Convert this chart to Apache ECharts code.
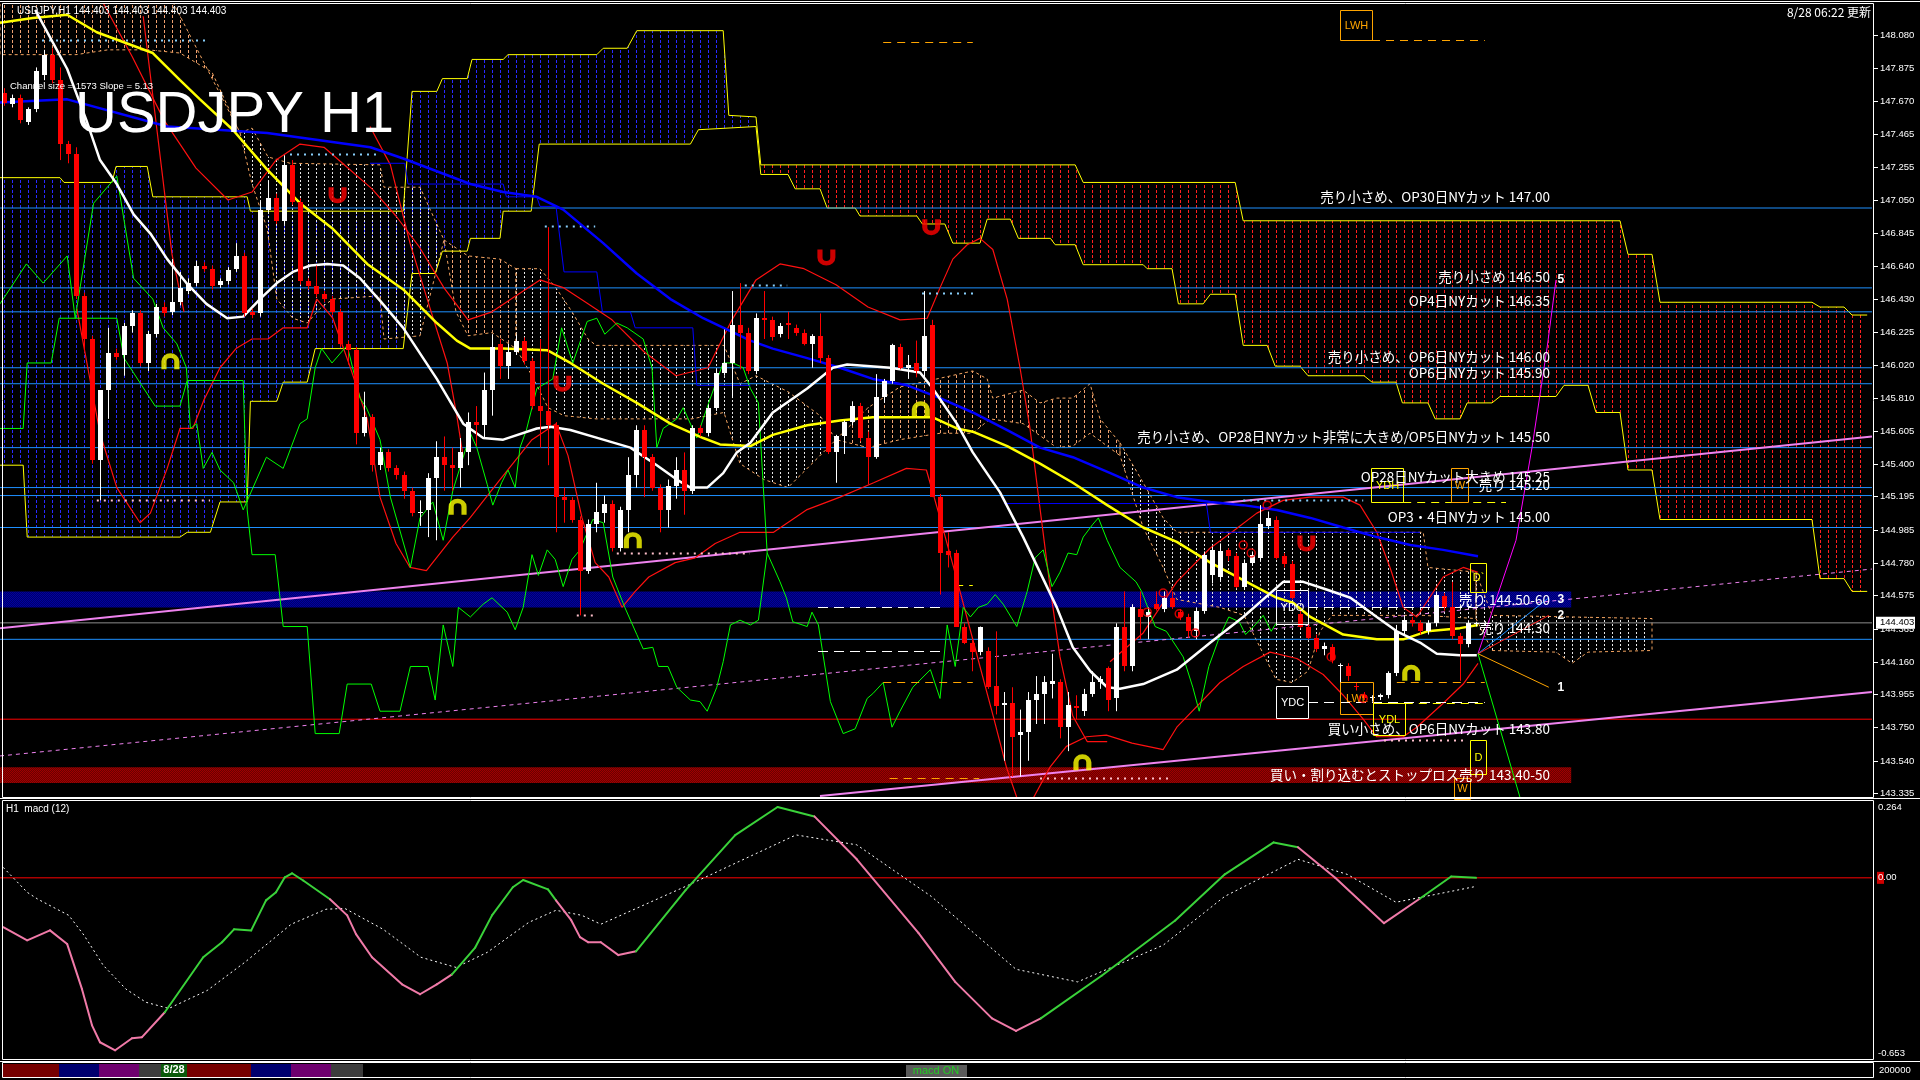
<!DOCTYPE html>
<html><head><meta charset="utf-8">
<script src="https://cdn.jsdelivr.net/npm/echarts/dist/echarts.min.js"></script>
<style>html,body{margin:0;padding:0;background:#000;overflow:hidden}#chart{width:1920px;height:1080px}</style>
</head><body><div id="chart"></div>
<script>
// ---------------- DATA ----------------
const priceTicks = [148.080,147.875,147.670,147.465,147.255,147.050,146.845,146.640,146.430,146.225,146.020,145.810,145.605,145.400,145.195,144.985,144.780,144.575,144.365,144.160,143.955,143.750,143.540,143.335];
const macdTicks = [0.264, 0.0, -0.653];
const lastPrice = 144.403;
// OHLC per hourly bar: [open, high, low, close]
const candles = [
[147.72,147.75,147.64,147.66],[147.65,147.71,147.63,147.69],[147.69,147.71,147.53,147.55],[147.54,147.63,147.52,147.62],
[147.62,147.88,147.60,147.86],[147.83,147.99,147.80,147.96],[147.96,148.00,147.78,147.80],[147.80,147.88,147.30,147.40],
[147.40,147.42,147.28,147.34],[147.34,147.38,146.43,146.45],[146.45,146.47,146.10,146.18],[146.18,146.20,145.40,145.42],
[145.42,145.86,145.17,145.86],[145.86,146.25,145.68,146.09],[146.09,146.12,146.05,146.07],[146.08,146.28,145.95,146.26],
[146.26,146.36,146.22,146.34],[146.34,146.36,146.01,146.03],[146.03,146.23,145.98,146.21],[146.21,146.40,146.19,146.38],
[146.38,146.41,146.32,146.34],[146.35,146.68,146.33,146.41],[146.41,146.60,146.39,146.50],[146.48,146.56,146.46,146.53],
[146.53,146.67,146.51,146.64],[146.64,146.66,146.60,146.62],[146.62,146.64,146.49,146.51],[146.52,146.56,146.50,146.54],
[146.54,146.63,146.52,146.61],[146.62,146.78,146.60,146.70],[146.70,146.72,146.32,146.34],[146.35,146.37,146.31,146.33],
[146.34,147.04,146.32,146.99],[146.99,147.17,146.97,147.06],[147.06,147.09,146.90,146.92],[146.92,147.33,146.90,147.27],
[147.27,147.30,147.02,147.04],[147.04,147.06,146.52,146.54],[146.54,146.56,146.49,146.51],[146.51,146.64,146.44,146.46],
[146.46,146.48,146.41,146.43],[146.43,146.45,146.33,146.35],[146.35,146.37,146.13,146.15],[146.15,146.17,146.02,146.11],
[146.11,146.13,145.52,145.59],[145.59,145.85,145.57,145.69],[145.69,145.71,145.35,145.39],[145.39,145.50,145.36,145.47],
[145.47,145.49,145.35,145.37],[145.37,145.39,145.30,145.33],[145.33,145.35,145.18,145.23],[145.23,145.25,145.07,145.09],
[145.09,145.17,145.01,145.10],[145.11,145.34,144.94,145.31],[145.31,145.54,144.92,145.44],[145.44,145.57,145.23,145.39],
[145.39,145.50,145.23,145.37],[145.37,145.56,145.25,145.47],[145.47,145.72,145.39,145.66],[145.66,145.76,145.51,145.64],
[145.64,145.97,145.56,145.86],[145.86,146.21,145.70,146.13],[146.15,146.18,145.93,146.01],[146.01,146.15,145.93,146.10],
[146.10,146.21,146.08,146.17],[146.17,146.19,146.02,146.04],[146.04,146.06,145.74,145.76],[145.76,146.18,145.50,145.73],
[145.73,146.88,145.39,145.64],[145.64,145.66,144.97,145.19],[145.19,145.25,145.03,145.17],[145.17,145.19,145.03,145.05],
[145.05,145.07,144.45,144.73],[144.73,145.05,144.71,145.02],[145.02,145.28,144.97,145.10],[145.09,145.20,145.03,145.15],
[145.15,145.17,144.85,144.87],[144.87,145.13,144.85,145.11],[145.11,145.44,144.97,145.33],[145.33,145.64,145.25,145.61],
[145.61,145.64,145.19,145.44],[145.44,145.46,145.23,145.25],[145.25,145.27,144.97,145.11],[145.11,145.30,145.00,145.26],
[145.26,145.44,145.18,145.36],[145.36,145.47,145.08,145.23],[145.23,145.64,145.21,145.62],[145.62,145.64,145.57,145.59],
[145.59,145.77,145.57,145.75],[145.75,145.99,145.73,145.97],[145.97,146.24,145.95,146.03],[146.03,146.48,145.81,146.27],
[146.27,146.53,145.99,146.22],[146.22,146.25,145.96,145.98],[145.98,146.34,145.96,146.31],[146.31,146.48,146.18,146.30],
[146.30,146.32,146.17,146.19],[146.21,146.28,146.19,146.26],[146.28,146.35,146.18,146.27],[146.25,146.27,146.20,146.22],
[146.22,146.24,146.14,146.15],[146.15,146.21,146.00,146.20],[146.20,146.34,146.03,146.06],[146.06,146.08,145.46,145.47],
[145.47,145.58,145.28,145.57],[145.57,145.67,145.46,145.66],[145.66,145.79,145.64,145.76],[145.76,145.78,145.54,145.56],
[145.56,145.60,145.27,145.44],[145.44,145.96,145.43,145.82],[145.82,145.93,145.78,145.92],[145.92,146.15,145.90,146.14],
[146.13,146.15,145.99,146.00],[146.00,146.08,145.93,146.02],[146.03,146.17,145.94,145.98],[145.98,146.48,145.94,146.20],
[146.27,146.30,145.19,145.19],[145.19,145.21,144.58,144.84],[144.85,144.97,144.75,144.83],[144.84,144.86,144.38,144.38],
[144.38,144.40,144.27,144.28],[144.28,144.30,144.10,144.22],[144.22,144.38,144.20,144.38],[144.23,144.25,143.99,144.00],
[144.01,144.35,143.83,143.88],[143.89,143.97,143.54,143.90],[143.90,144.00,143.44,143.69],[143.70,143.86,143.44,143.72],
[143.72,143.97,143.54,143.92],[143.92,144.07,143.77,143.96],[143.96,144.07,143.77,144.03],[144.02,144.21,143.93,144.04],
[144.03,144.05,143.68,143.75],[143.75,143.97,143.60,143.89],[143.88,143.95,143.80,143.87],[143.85,143.99,143.82,143.96],
[143.96,144.10,143.94,144.03],[144.03,144.07,143.99,144.05],[144.12,144.13,143.85,143.92],[143.93,144.40,143.85,144.38],
[144.38,144.60,144.10,144.13],[144.13,144.52,144.10,144.50],[144.49,144.60,144.30,144.44],[144.44,144.50,144.30,144.47],
[144.52,144.60,144.48,144.49],[144.49,144.60,144.47,144.56],[144.56,144.60,144.49,144.50],[144.47,144.49,144.42,144.44],
[144.44,144.46,144.31,144.35],[144.35,144.50,144.30,144.48],[144.48,144.85,144.46,144.83],[144.70,144.88,144.65,144.86],
[144.69,144.90,144.66,144.85],[144.86,144.87,144.79,144.82],[144.82,144.84,144.62,144.63],[144.63,144.80,144.61,144.78],
[144.78,144.85,144.76,144.83],[144.81,145.14,144.79,145.02],[145.01,145.10,144.99,145.06],[145.05,145.07,144.80,144.81],
[144.82,144.84,144.75,144.77],[144.77,144.79,144.55,144.56],[144.46,144.48,144.37,144.38],[144.38,144.40,144.30,144.31],
[144.31,144.33,144.22,144.24],[144.24,144.28,144.20,144.26],[144.25,144.27,144.15,144.17],[144.13,144.15,144.00,144.14],
[144.13,144.15,144.04,144.07],[144.01,144.03,143.98,144.00],[143.95,143.97,143.92,143.93],[143.93,143.95,143.91,143.94],
[143.94,143.96,143.92,143.95],[143.95,144.10,143.93,144.09],[144.09,144.39,144.07,144.35],[144.35,144.45,144.33,144.42],
[144.42,144.44,144.38,144.40],[144.40,144.42,144.33,144.35],[144.35,144.42,144.33,144.40],[144.40,144.60,144.38,144.58],
[144.57,144.59,144.48,144.50],[144.50,144.66,144.30,144.32],[144.32,144.34,144.04,144.27],[144.27,144.42,144.25,144.40],
[144.40,144.41,144.38,144.403]
];
// moving averages, read as [bar index, price]
const maWhite = [[3.9,148.24],[7.9,147.87],[10.3,147.55],[12,147.30],[14.1,147.15],[16.2,146.96],[18.3,146.84],[20.4,146.68],[22.8,146.53],[25.3,146.40],[27.9,146.31],[29.9,146.32],[32,146.43],[34.1,146.53],[36.1,146.60],[38.3,146.64],[40.4,146.65],[42.4,146.64],[44.5,146.56],[47,146.42],[49.9,146.25],[54.1,145.93],[57.4,145.65],[59.9,145.56],[62.4,145.55],[66.6,145.62],[68.3,145.63],[70.8,145.61],[74.9,145.55],[78.3,145.50],[81.6,145.39],[84.1,145.30],[85.8,145.25],[87.9,145.25],[89.9,145.34],[91.6,145.47],[93.3,145.53],[96.1,145.72],[100.4,145.87],[103.6,146.00],[105.4,146.02],[110.8,146.00],[114.5,145.97],[116.1,145.87],[119.1,145.65],[121.1,145.47],[124.5,145.22],[127.4,144.94],[131.6,144.50],[133.6,144.25],[135.8,144.10],[137.9,144.00],[139.5,143.99],[142.4,144.02],[146.6,144.11],[150.8,144.28],[154.9,144.44],[157.4,144.55],[159.9,144.66],[162.4,144.66],[165.4,144.61],[168.3,144.56],[171.6,144.44],[174.1,144.35],[177,144.28],[179.1,144.21],[182,144.20],[184.1,144.20]];
const maYellow = [[-0.5,148.16],[3.6,148.19],[7.9,148.21],[11.6,148.10],[18.6,147.97],[22,147.80],[24.5,147.68],[28.6,147.49],[32.9,147.24],[37,147.03],[41.1,146.87],[45.4,146.65],[49.9,146.49],[54.1,146.28],[56.6,146.17],[58.3,146.12],[62.4,146.12],[67.9,146.11],[70.8,146.03],[74.9,145.90],[79.1,145.78],[83.3,145.65],[87.4,145.56],[89.5,145.52],[93.3,145.51],[96.1,145.58],[100.4,145.64],[104.5,145.67],[108.6,145.69],[116.1,145.69],[119.1,145.62],[121.1,145.60],[125.4,145.51],[129.5,145.40],[133.6,145.28],[137.9,145.14],[142.4,145.00],[146.6,144.91],[150.8,144.78],[154.9,144.67],[159.1,144.56],[161.1,144.53],[163.3,144.44],[167.4,144.33],[171.6,144.30],[174.9,144.30],[177.9,144.35],[182,144.37],[184.25,144.39]];
const maBlue = [[-0.5,147.66],[7.9,147.68],[20.4,147.51],[32.9,147.47],[45.8,147.38],[49.9,147.31],[58.3,147.15],[62.4,147.10],[66.6,147.07],[69.9,146.99],[74.9,146.78],[79.1,146.59],[83.3,146.43],[87.4,146.31],[93.3,146.17],[96.1,146.12],[100.4,146.06],[104.5,146.00],[108.6,145.93],[112.9,145.89],[117,145.81],[121.1,145.72],[125.4,145.61],[129.5,145.50],[133.6,145.44],[138.3,145.34],[142.4,145.25],[146.6,145.19],[150.8,145.16],[154.9,145.14],[159.1,145.11],[163.3,145.06],[167.4,145.00],[171.6,144.94],[175.8,144.89],[179.9,144.86],[184.25,144.82]];
// thin blue base line (stepped) [bar index, price]
const baseStep = [[45.75,147.28],[50.1,147.28],[50.5,147.15],[62.4,147.15],[62.8,147.07],[66.6,147.07],[67,147.01],[69,147.01],[70,146.60],[74.1,146.60],[74.8,146.35],[78.3,146.35],[78.9,146.25],[86.1,146.25],[86.6,145.89],[93.3,145.89]];
const baseStep2 = [[125,145.15],[150.3,145.15],[150.8,144.97],[177,144.97]];
// thin red envelope lines [bar index, price]
const redUpper = [[12,148.32],[16,147.95],[20,147.55],[24,147.25],[28,147.05],[31,147.10],[34,147.30],[37,147.40],[40,147.38],[43,147.25],[46,147.12],[49,146.95],[52,146.75],[55,146.50],[58,146.30],[61,146.35],[64,146.45],[67,146.55],[70,146.50],[73,146.40],[76,146.30],[80,146.10],[84,145.95],[88,146.00],[91,146.30],[94,146.55],[97,146.65],[100,146.62],[104,146.52],[108,146.38],[112,146.30],[115.4,146.31],[117,146.50],[118.6,146.68],[120.4,146.77],[122,146.81],[123.6,146.74],[125.4,146.43],[127,146.00],[128.25,145.62],[129.5,145.12],[130.75,144.63],[132,144.19],[133.6,143.82],[135.4,143.66],[137.9,143.66]];
const redUpper2 = [[138.25,144.16],[142.4,144.34],[146.6,144.66],[150.75,144.87],[154,144.99],[156.6,145.09],[159.9,145.17],[163.25,145.19],[167.4,145.19],[169.5,145.14],[171.6,144.97],[173.25,144.75],[174.9,144.50],[176.6,144.44],[179.9,144.69],[182.4,144.75],[184.25,144.72]];
const redLower = [[9.1,146.37],[12,145.59],[14.1,145.25],[17,145.03],[18.3,145.09],[20.4,145.37],[22,145.62],[23.6,145.62],[25,145.80],[27,146.00],[29,146.12],[31,146.18],[33,146.18],[34.9,146.25],[37.9,146.25],[39.1,146.43],[41.1,146.31],[43.3,146.00],[45.4,145.68],[47,145.19],[49,144.90],[50.75,144.75],[52.8,144.73],[56.1,144.94],[58.25,145.06],[62,145.30],[66,145.55],[69,145.65],[70.5,145.45],[72.25,145.06],[73.9,144.78],[75.6,144.69],[77.25,144.50],[78.9,144.60],[80.6,144.69],[83.9,144.78],[86.4,144.81],[88.9,144.90],[92,144.97],[96.2,144.97],[100.3,145.11],[104.5,145.19],[108.7,145.28],[112.8,145.37],[115.3,145.36],[117,145.06],[118.7,144.75],[121.2,144.28],[123.7,143.81],[125.3,143.50],[126.6,143.31]];
const redLower2 = [[128.7,143.31],[130.75,143.50],[132.8,143.63],[135.3,143.69],[137.8,143.70],[141,143.65],[144.9,143.61],[146.6,143.75],[152,144.03],[154.9,144.13],[158.25,144.22],[161.6,144.18],[164.9,144.08],[167.4,143.95],[169.9,143.80],[171.6,143.69],[174.9,143.69],[176.6,143.75],[179.9,143.90],[182.4,144.02],[184.25,144.15]];
const redSteep1 = [[17.4,148.20],[21,146.71],[22.5,146.35]];
const redSteep2 = [[45.75,147.51],[48.3,147.27],[50.75,146.78],[52.9,146.43],[55.4,146.03],[56.6,145.70],[57.4,145.44]];
// higher-timeframe cloud edges [bar index, price]
const cloudBlueTop = [[-0.5,147.19],[7,147.19],[7.5,147.16],[13.5,147.16],[14,147.26],[17.9,147.26],[18.6,147.07],[30.4,147.07],[30.8,146.98],[49.9,146.98],[51,147.73],[54.1,147.73],[54.8,147.81],[57.9,147.81],[58.5,147.93],[62.4,147.93],[63,147.96],[74.1,147.96],[74.9,148.00],[77.9,148.00],[79.1,148.11],[89.9,148.11],[90.6,147.58],[94.0,147.57]];
const cloudBlueBottom = [[-0.5,145.39],[2.4,145.39],[2.9,144.94],[22,144.94],[22.9,144.97],[25.8,144.97],[27,145.16],[30.4,145.16],[30.8,145.79],[34.1,145.79],[34.9,145.91],[37.9,145.91],[38.9,146.12],[49.9,146.12],[51,146.59],[53.9,146.59],[54.8,146.73],[57.9,146.73],[58.3,146.81],[62,146.81],[62.4,146.98],[65.9,146.98],[66.9,147.40],[85.8,147.40],[86.8,147.49],[94.0,147.51]];
const cloudRedTop = [[94.6,147.27],[133.9,147.27],[134.9,147.16],[153.9,147.16],[154.9,146.92],[202,146.92],[203,146.71],[206,146.71],[207,146.41],[226,146.41],[227,146.38],[230,146.38],[231,146.33],[232.9,146.33]];
const cloudRedBottom = [[94.6,147.21],[98,147.21],[98.9,147.12],[102,147.12],[102.9,147.0],[106.4,147.0],[107,146.95],[114.1,146.95],[114.8,146.90],[117.6,146.90],[118.6,146.78],[122,146.78],[122.9,146.93],[125.8,146.93],[126.8,146.81],[130.8,146.81],[131.4,146.77],[133.9,146.77],[134.9,146.645],[142.4,146.645],[142.9,146.62],[146,146.62],[146.8,146.40],[149.9,146.40],[150.8,146.46],[153.9,146.46],[154.9,146.14],[157.9,146.14],[158.9,146.01],[162,146.01],[163,145.95],[170,145.95],[171,145.91],[174,145.91],[174.8,145.78],[178,145.78],[178.9,145.68],[182,145.68],[182.9,145.78],[186,145.78],[187,145.82],[194,145.82],[195,145.89],[198,145.89],[199,145.72],[202,145.72],[203,145.36],[206,145.36],[207,145.05],[226,145.05],[227,144.68],[230,144.68],[231,144.60],[232.9,144.60]];
// hourly cloud pieces [top edge, bottom edge] as [bar index, price]
const hcPeachA = [[[-0.5,148.30],[21,148.30],[29.5,147.47]], [[-0.5,147.96],[9,147.96],[13,147.99],[18,147.99],[22,147.97],[26,147.85],[29.5,147.47]]];
const hcWhiteB = [[[29.5,147.47],[31,147.50],[33,147.32],[35.75,147.28],[47,147.27],[47.5,147.13],[52,147.13],[55,146.80]], [[29.5,147.47],[31,147.15],[32.9,146.87],[34.1,146.43],[36.1,146.31],[37.9,146.28],[39.5,146.37],[41.1,146.43],[47,146.45],[47.5,146.18],[52,146.20],[55,146.80]]];
const hcPeachD = [[[55,146.80],[58,146.70],[62,146.68],[64,146.62]], [[55,146.80],[56.5,146.35],[58,146.20],[61,146.22],[64,146.12]]];
const hcWhiteE = [[[64,146.62],[67,146.62],[69,146.50],[71,146.35],[73,146.18],[74,146.14],[90,146.14],[92,145.90],[94,145.95],[98,145.85],[102,145.70],[104,145.55]], [[64,146.12],[66,145.95],[68,145.75],[70,145.70],[74,145.68],[86,145.68],[90,145.72],[92,145.40],[95,145.30],[98,145.25],[100,145.35],[104,145.55]]];
const hcPeachF = [[[104,145.55],[108,145.75],[112,145.88],[116.6,145.93],[121.1,145.98],[122.9,145.93],[123.6,145.81],[127.4,145.86],[129.5,145.78],[131.6,145.81],[133.6,145.81],[135.75,145.90],[137,145.68],[139.5,145.53]], [[104,145.55],[108,145.50],[112,145.55],[117,145.59],[121.1,145.59],[123.25,145.68],[127.4,145.65],[131.6,145.50],[133.6,145.51],[135.75,145.59],[139.5,145.45]]];
const hcWhiteG = [[[139.5,145.53],[142.4,145.28],[144.9,145.06],[146.6,144.97],[177.4,144.97],[178,144.75],[184,144.72]], [[139.5,145.45],[142.4,145.0],[144.9,144.75],[146.6,144.55],[152,144.50],[155,144.45],[157,144.25],[159,144.05],[161,144.03],[163,144.10],[164.5,144.35],[166,144.45],[177.4,144.45],[184,144.43]]];
const hcWhiteH = [[[184,144.72],[186,144.45],[206,144.43]], [[184,144.43],[186,144.23],[194,144.22],[196,144.15],[198,144.22],[206,144.23]]];
// lagging lines [bar index, price]
const chikouH1 = [[-0.5,146.40],[2.8,146.65],[4.9,146.53],[7.9,146.70],[8.9,146.31],[11.2,147.03],[14.1,147.20],[16.2,146.56],[18.6,146.43],[19.9,146.25],[21.6,146.15],[22.8,146.00],[23.3,145.62],[24.1,145.65],[24.9,145.37],[26,145.47],[27,145.36],[28.7,145.28],[29.9,145.11],[32.8,145.44],[34.9,145.37],[37,145.65],[37.9,145.68],[38.9,146.0],[39.7,146.12],[41,146.03],[42.9,146.14],[44.5,145.81],[45.3,145.75],[47,145.55],[48.3,145.19],[50.8,144.75],[52,145.06],[53.6,145.16],[54.9,144.92],[56.1,145.23],[57.4,145.44],[58.3,145.59],[59.1,145.50],[60.4,145.27],[61.1,145.14],[62.2,145.28],[63,145.36],[63.9,145.25],[64.5,145.50],[65.3,145.61],[66.6,145.87],[68.6,145.93],[69.7,146.25],[71.1,146.03],[72.9,146.29],[74.1,146.31],[75.1,146.21],[76.6,146.28],[77.9,146.25],[79.9,146.18],[81,146.0],[81.6,145.50],[82.4,145.62],[84.1,145.68],[84.9,145.75],[86.6,145.56],[87.4,145.68],[88.3,145.81],[89.9,146.03],[91.1,146.03],[92.4,146.0],[93.3,145.87],[94.3,145.78],[95.4,144.84],[97,144.66],[97.8,144.56],[98.6,144.41],[100.4,144.38],[101,144.47],[101.8,144.39],[103.3,143.91],[104.9,143.71],[106.4,143.74],[107.9,143.93],[108.6,143.96],[109.9,144.03],[111,143.75],[112,143.85],[113.6,144.0],[115.8,144.11],[117,143.93],[117.9,144.39],[118.9,144.13],[119.9,144.50],[120.8,144.44],[121.8,144.50],[122.9,144.52],[123.9,144.58],[124.9,144.52],[126.6,144.38],[127.9,144.60],[128.9,144.81],[129.9,144.86],[131,144.63],[132,144.72],[133,144.84],[134.1,144.83],[134.9,144.94],[136.1,145.02],[136.8,145.06],[137.9,144.92],[139.5,144.75],[141.5,144.66],[142.2,144.60],[143.9,144.38],[145.3,144.35],[147.4,144.19],[148.6,144.00],[149.4,143.85],[150.6,144.13],[151.9,144.31],[153.1,144.44],[154.4,144.41],[155.2,144.33],[156.4,144.39],[157.4,144.45],[158.4,144.35],[159,144.40]];
const chikouH4 = [[-0.5,145.62],[2.4,145.62],[2.9,146.03],[5.9,146.03],[6.9,146.31],[14.1,146.31],[15,146.06],[18.9,145.76],[22,145.76],[22.9,145.92],[29.9,145.92],[30.4,145.11],[31,144.83],[33.9,144.83],[34.9,144.38],[37.9,144.38],[38.9,143.71],[41.9,143.71],[42.9,144.02],[45.9,144.02],[47,143.85],[49.5,143.85],[50.8,144.13],[53,144.13],[53.9,143.92],[54.9,144.39],[56.1,144.13],[56.8,144.50],[58.3,144.44],[59.9,144.52],[61,144.56],[62.9,144.47],[63.9,144.36],[64.9,144.50],[66,144.83],[66.8,144.70],[67.9,144.86],[68.9,144.80],[69.9,144.63],[71,144.80],[72,144.86],[73.6,145.05],[74.9,145.03],[76.1,144.69],[77.6,144.50],[79.1,144.33],[79.9,144.24],[81.1,144.25],[81.8,144.13],[83,144.13],[84.1,144.0],[85.8,143.92],[87,143.91],[87.9,143.85],[89.1,144.0],[89.9,144.16],[90.8,144.39],[92,144.42],[93.3,144.39],[94.3,144.42],[95.4,144.84]];
// option levels and comments
const optionLevels = [147.00,146.50,146.35,146.00,145.90,145.50,145.25,145.20,145.00,144.30];
const optionTexts = [
  [147.00,'売り小さめ、OP30日NYカット 147.00'],
  [146.50,'売り小さめ 146.50'],
  [146.35,'OP4日NYカット 146.35'],
  [146.00,'売り小さめ、OP6日NYカット 146.00'],
  [145.90,'OP6日NYカット 145.90'],
  [145.50,'売り小さめ、OP28日NYカット非常に大きめ/OP5日NYカット 145.50'],
  [145.25,'OP28日NYカット大きめ 145.25'],
  [145.20,'売り 145.20'],
  [145.00,'OP3・4日NYカット 145.00'],
  [144.30,'売り 144.30']
];
const buyLevel = 143.80;
const buyText = '買い小さめ、OP6日NYカット 143.80';
const sellBand = [144.50,144.60];
const sellBandText = '売り 144.50-60';
const stopBand = [143.40,143.50];
const stopBandText = '買い・割り込むとストップロス売り 143.40-50';
// channel lines [bar index, price]
const channelUpper = [[-0.5,144.37],[233.5,145.57]];
const channelLower = [[102,143.32],[233.5,143.97]];
const channelMid = [[-0.5,143.57],[233.5,144.74]];
// projection fan from last bar
const fan5 = [[184.25,144.21],[189,144.92],[191,145.50],[192.9,146.13],[194,146.55]];
const fan3 = [[184.25,144.21],[193.1,144.56]];
const fan2 = [[184.25,144.21],[193.1,144.45]];
const fan1 = [[184.25,144.21],[193.1,144.00]];
const fanDown = [[184.25,144.21],[189.5,143.31]];
const fanLabels = [[194.6,146.55,'5'],[194.6,144.55,'3'],[194.6,144.45,'2'],[194.6,144.00,'1']];
// markers
const yellowMarks = [[20.8,146.04],[56.7,145.13],[78.6,144.92],[114.6,145.74],[134.8,143.53],[175.9,144.09]];
const redMarks = [[41.7,147.08],[69.8,145.90],[102.8,146.69],[115.9,146.88],[162.8,144.90]];
const circleMarks = [[142.9,144.47],[144.9,144.59],[146.9,144.46],[148.9,144.34],[154.9,144.89],[155.9,144.84],[157.9,145.14],[165.9,144.19],[169.9,143.93]];
// short level segments [startIdx, endIdx, price]
const orangeDash = [[171,185.1,148.05],[109.9,121.1,148.04],[109.9,121.1,144.03],[110.7,121.9,143.43],[174.1,185.1,144.03]];
const whiteDash = [[101.75,117.4,144.50],[101.75,117.4,144.23],[163,185.1,144.50],[163,185.1,143.91]];
const yellowDash = [[175.1,185.1,143.90],[174.9,187.75,145.16],[118.9,121.1,144.64]];
const blueDots = [[4.75,25.75,148.05],[35.75,47,147.34],[67.6,73.9,146.89],[92.6,97.9,146.52],[114.75,121.75,146.47],[154.9,169.9,145.17]];
const pinkDots = [[11.6,25.75,145.17],[71.6,73.9,144.45],[76.6,93.25,144.84],[129.5,145.75,143.43],[172.5,182.5,143.67]];
// labelled boxes [idx0, idx1, price top, price bottom, text]
const boxesOrange = [[167,171,148.24,148.05,'LWH'],[180.9,183,145.37,145.16,'W'],[167,171.1,144.03,143.83,'LWL'],[181.25,183.25,143.43,143.30,'W']];
const boxesYellow = [[170.9,174.9,145.37,145.16,'YDH'],[183.25,185.25,144.78,144.60,'D`'],[171.1,175.1,143.90,143.70,'YDL'],[183.25,185.25,143.67,143.46,'D']];
const boxesWhite = [[159,163,144.61,144.40,'YDO'],[159,163,144.01,143.81,'YDC']];
// MACD panel [bar index, value]
const macdLine = [[-0.1,-0.184],[2.9,-0.233],[5.75,-0.196],[7.9,-0.247],[9.75,-0.415],[11,-0.55],[12,-0.613],[13.9,-0.643],[16,-0.598],[17.25,-0.594],[20.1,-0.501],[24.9,-0.296],[27.25,-0.24],[28.75,-0.192],[30.9,-0.196],[32.75,-0.084],[34,-0.054],[35.1,0.002],[36,0.017],[37.4,-0.01],[40.75,-0.08],[42.9,-0.14],[44,-0.21],[46,-0.296],[49.75,-0.397],[52,-0.434],[54.1,-0.397],[56,-0.36],[58.9,-0.26],[61,-0.14],[63.6,-0.035],[64.9,-0.008],[68,-0.043],[69,-0.084],[70.9,-0.158],[72,-0.221],[73,-0.24],[74.6,-0.24],[76.8,-0.288],[79,-0.274],[85.2,-0.046],[91.4,0.159],[96.7,0.264],[101.3,0.229],[106.6,0.069],[114.3,-0.205],[118.9,-0.388],[123.5,-0.524],[126.5,-0.571],[129.6,-0.524],[137.2,-0.365],[146.4,-0.159],[152.6,0.013],[158.7,0.132],[161.75,0.114],[166.4,0.0],[172.5,-0.169],[177,-0.077],[180.9,0.005],[184,0.0]];
const macdSignal = [[-0.1,0.039],[2.9,-0.054],[4.25,-0.08],[8.1,-0.14],[10,-0.214],[12.4,-0.326],[15.25,-0.415],[17.75,-0.464],[20.6,-0.487],[25.4,-0.42],[30.1,-0.315],[35.9,-0.173],[40.25,-0.117],[42.6,-0.114],[47.4,-0.192],[52.1,-0.296],[56.5,-0.334],[60.4,-0.278],[65.6,-0.166],[69,-0.121],[72.25,-0.14],[74.6,-0.173],[85.2,-0.032],[99,0.16],[106.6,0.123],[115.9,-0.069],[126.5,-0.341],[134.2,-0.388],[144.9,-0.251],[152.6,-0.069],[161.75,0.069],[167.9,0.013],[174,-0.091],[184,-0.032]];
const macdRisingRanges = [[20.1,40.75],[56,69],[80,100],[129.6,161],[176,185]];

// ---------------- RENDER ----------------
const X_MIN = -0.5, X_MAX = 233.5;
const CJK = '"Noto Sans CJK JP","Noto Sans",sans-serif';
const LAT = '"Liberation Sans","DejaVu Sans",sans-serif';

function hatch(color, w, h, dash) {
  const c = document.createElement('canvas'); c.width = w; c.height = h;
  const g = c.getContext('2d'); g.fillStyle = color; g.fillRect(4, 0, 1, dash); return c;
}
function dither(a, b) {
  const c = document.createElement('canvas'); c.width = 2; c.height = 2;
  const g = c.getContext('2d'); g.fillStyle = a; g.fillRect(0,0,2,2); g.fillStyle = b; g.fillRect(0,0,1,1); g.fillRect(1,1,1,1); return c;
}
const blueHatch = hatch('#2a2aff', 8, 5, 3);
const redHatch = hatch('#ff2020', 8, 5, 3);
const whiteHatch = hatch('#e8e8e8', 8, 4, 2);
const peachHatch = hatch('#f0a070', 8, 5, 3);

function lineS(data, color, width, type, z, grid) {
  return {type:'line', xAxisIndex:grid||0, yAxisIndex:grid||0, data:data, showSymbol:false, symbol:'none',
    lineStyle:{color:color, width:width, type:type||'solid'}, silent:true, animation:false, z:z||3};
}
function polyS(top, bottom, pattern, z, edge) {
  return {type:'custom', xAxisIndex:0, yAxisIndex:0, data:[[0,0]], silent:true, animation:false, z:z||1, clip:true,
    renderItem:function(params, api){
      const pts = top.map(p=>api.coord(p)).concat(bottom.slice().reverse().map(p=>api.coord(p)));
      return {type:'polygon', shape:{points:pts}, style:{fill:{image:pattern, repeat:'repeat'}, stroke:edge||null, lineWidth:1, lineDash:edge?[3,3]:null}};
    }};
}
function segS(segs, color, dash, width, z) {
  return {type:'custom', xAxisIndex:0, yAxisIndex:0, data:segs, silent:true, animation:false, z:z||4,
    encode:{x:[0,1], y:2},
    renderItem:function(params, api){
      const a = api.coord([api.value(0), api.value(2)]), b = api.coord([api.value(1), api.value(2)]);
      const y = Math.round(a[1]) + 0.5;
      return {type:'line', shape:{x1:a[0], y1:y, x2:b[0], y2:y}, style:{stroke:color, lineWidth:width||1, lineDash:dash}};
    }};
}
function bandS(range, pattern, z) {
  return {type:'custom', xAxisIndex:0, yAxisIndex:0, data:[[X_MIN, range[0], 195.9, range[1]]], silent:true, animation:false, z:z||1,
    encode:{x:[0,2], y:[1,3]},
    renderItem:function(params, api){
      const a = api.coord([api.value(0), api.value(3)]), b = api.coord([api.value(2), api.value(1)]);
      return {type:'rect', shape:{x:a[0], y:a[1], width:b[0]-a[0], height:b[1]-a[1]}, style:{fill:{image:pattern, repeat:'repeat'}}};
    }};
}
function boxS(boxes, color, z) {
  return {type:'custom', xAxisIndex:0, yAxisIndex:0, data:boxes.map(b=>[b[0],b[1],b[2],b[3]]), silent:true, animation:false, z:z||8, clip:false,
    encode:{x:[0,1], y:[2,3]},
    renderItem:function(params, api){
      const a = api.coord([api.value(0), api.value(2)]), b = api.coord([api.value(1), api.value(3)]);
      const x = Math.round(a[0])+0.5, y = Math.round(a[1])+0.5, w = Math.round(b[0]-a[0]), h = Math.round(b[1]-a[1]);
      return {type:'group', children:[
        {type:'rect', shape:{x:x, y:y, width:w, height:h}, style:{fill:null, stroke:color, lineWidth:1}},
        {type:'text', x:x+w/2, y:y+h/2, style:{text:boxes[params.dataIndex][4], fill:color, font:'11px '+LAT, align:'center', verticalAlign:'middle'}}
      ]};
    }};
}
function markerS(data, path, color, size, z) {
  return {type:'scatter', xAxisIndex:0, yAxisIndex:0, data:data, symbol:path, symbolSize:size,
    itemStyle:{color:color}, silent:true, animation:false, z:z||9};
}

const series = [];
// bands
series.push(bandS(sellBand, dither('#00006a', '#0000a0'), 1));
series.push(bandS(stopBand, dither('#6a0000', '#a00000'), 1));
// cloud fill + edges
series.push(polyS(cloudBlueTop, cloudBlueBottom, blueHatch, 1));
series.push(polyS(cloudRedTop, cloudRedBottom, redHatch, 1));
series.push(lineS(cloudBlueTop.concat(cloudRedTop), '#ffff00', 1, 'solid', 2));
series.push(lineS(cloudBlueBottom.concat(cloudRedBottom), '#ffff00', 1, 'solid', 2));
// hourly cloud
[hcPeachA, hcPeachD, hcPeachF].forEach(c => series.push(polyS(c[0], c[1], peachHatch, 2, '#f4a460')));
[hcWhiteB, hcWhiteE, hcWhiteG, hcWhiteH].forEach(c => series.push(polyS(c[0], c[1], whiteHatch, 2, '#f4a460')));
// horizontal option lines
optionLevels.forEach(p => series.push(lineS([[X_MIN,p],[X_MAX,p]], '#1e90ff', 1, 'solid', 2)));
series.push(lineS([[X_MIN,buyLevel],[X_MAX,buyLevel]], '#ff0000', 1, 'solid', 2));
series.push(lineS([[X_MIN,lastPrice],[X_MAX,lastPrice]], '#8c8c8c', 1, 'solid', 2));
// channel
series.push(lineS(channelUpper, '#ee82ee', 2, 'solid', 3));
series.push(lineS(channelLower, '#ee82ee', 2, 'solid', 3));
series.push(lineS(channelMid, '#ee82ee', 1, [4,4], 3));
// short level segments
series.push(segS(orangeDash, '#ffa500', [8,6], 1, 4));
series.push(segS(whiteDash, '#ffffff', [10,6], 1, 4));
series.push(segS(yellowDash, '#ffff00', [8,6], 1, 4));
series.push(segS(blueDots, '#87cefa', [2,5], 2, 4));
series.push(segS(pinkDots, '#ffc0cb', [2,5], 2, 4));
// thin red envelopes
[redUpper, redUpper2, redLower, redLower2, redSteep1, redSteep2].forEach(d => series.push(lineS(d, '#ff1010', 1.2, 'solid', 3)));
// lagging lines + thin base lines
series.push(lineS(chikouH4, '#00ff00', 1, 'solid', 3));
series.push(lineS(chikouH1, '#00ff00', 1, 'solid', 3));
series.push(lineS(baseStep, '#0000ff', 1, 'solid', 3));
series.push(lineS(baseStep2, '#0000ff', 1, 'solid', 3));
// moving averages
series.push(lineS(maBlue, '#0000ff', 2.5, 'solid', 5));
series.push(lineS(maYellow, '#ffff00', 2.5, 'solid', 5));
series.push(lineS(maWhite, '#ffffff', 2.5, 'solid', 5));
// fan
series.push(lineS(fan5, '#ff00ff', 1, 'solid', 6));
series.push(lineS(fan3, '#1e90ff', 1, 'solid', 6));
series.push(lineS(fan2, '#ff2020', 1, 'solid', 6));
series.push(lineS(fan1, '#ffa500', 1, 'solid', 6));
series.push(lineS(fanDown, '#00ff00', 1, 'solid', 6));
// candles
series.push({type:'custom', xAxisIndex:0, yAxisIndex:0, silent:true, animation:false, z:7,
  data:candles.map((d,i)=>[i,d[0],d[1],d[2],d[3]]), encode:{x:0, y:[1,2,3,4]},
  renderItem:function(params, api){
    const i = api.value(0), o = api.value(1), h = api.value(2), l = api.value(3), c = api.value(4);
    const col = c >= o ? '#ffffff' : '#ff0000';
    const ph = api.coord([i,h]), pl = api.coord([i,l]), po = api.coord([i,o]), pc = api.coord([i,c]);
    const x = Math.round(ph[0]) + 0.5;
    const top = Math.round(Math.min(po[1],pc[1])), bot = Math.round(Math.max(po[1],pc[1]));
    return {type:'group', children:[
      {type:'line', shape:{x1:x, y1:ph[1], x2:x, y2:pl[1]}, style:{stroke:col, lineWidth:1}},
      {type:'rect', shape:{x:x-2.5, y:top, width:5, height:Math.max(1,bot-top)}, style:{fill:col, stroke:null}}
    ]};
  }});
// markers
series.push(markerS(yellowMarks, 'path://M0,14 L0,7 A7,7 0 0 1 14,7 L14,14 L10,14 L10,7 A3,3 0 0 0 4,7 L4,14 Z', '#ffff00', [18,16], 9));
series.push(markerS(redMarks, 'path://M0,0 L0,7 A7,7 0 0 0 14,7 L14,0 L10,0 L10,7 A3,3 0 0 1 4,7 L4,0 Z', '#ff0000', [18,16], 9));
series.push({type:'scatter', xAxisIndex:0, yAxisIndex:0, data:circleMarks, symbol:'circle', symbolSize:8,
  itemStyle:{color:'rgba(0,0,0,0)', borderColor:'#ff0000', borderWidth:1.5}, silent:true, animation:false, z:9});
// boxes
series.push(boxS(boxesOrange, '#ffa500', 8));
series.push(boxS(boxesYellow, '#ffff00', 8));
series.push(boxS(boxesWhite, '#ffffff', 8));
// option texts
function textS(items, offsetY, z) {
  return {type:'custom', xAxisIndex:0, yAxisIndex:0, data:items.map(t=>[193.25, t[0]]), silent:true, animation:false, z:z||10, clip:false,
    renderItem:function(params, api){
      const p = api.coord([api.value(0), api.value(1)]);
      return {type:'text', x:p[0], y:p[1]+offsetY, style:{text:items[params.dataIndex][1], fill:'#ffffff', font:'13.5px '+CJK, align:'right', verticalAlign:'middle'}};
    }};
}
series.push(textS(optionTexts, -11, 10));
series.push(textS([[buyLevel, buyText]], 10, 10));
series.push(textS([[(sellBand[0]+sellBand[1])/2, sellBandText],[(stopBand[0]+stopBand[1])/2, stopBandText]], 0, 10));
series.push({type:'custom', xAxisIndex:0, yAxisIndex:0, data:fanLabels.map(f=>[f[0],f[1]]), silent:true, animation:false, z:10, clip:false,
  renderItem:function(params, api){
    const p = api.coord([api.value(0), api.value(1)]);
    return {type:'text', x:p[0], y:p[1], style:{text:fanLabels[params.dataIndex][2], fill:'#ffffff', font:'bold 12px '+LAT, align:'center', verticalAlign:'middle'}};
  }});
// price axis labels
series.push({type:'custom', xAxisIndex:0, yAxisIndex:0, data:priceTicks.map(v=>[X_MAX, v]), silent:true, animation:false, z:11, clip:false,
  renderItem:function(params, api){
    const p = api.coord([api.value(0), api.value(1)]); const y = Math.round(p[1]) + 0.5;
    return {type:'group', children:[
      {type:'line', shape:{x1:p[0]+2, y1:y, x2:p[0]+6, y2:y}, style:{stroke:'#ffffff', lineWidth:1}},
      {type:'text', x:p[0]+8, y:y, style:{text:api.value(1).toFixed(3), fill:'#ffffff', font:'9.5px '+LAT, verticalAlign:'middle', align:'left'}}
    ]};
  }});
series.push({type:'custom', xAxisIndex:0, yAxisIndex:0, data:[[X_MAX, lastPrice]], silent:true, animation:false, z:12, clip:false,
  renderItem:function(params, api){
    const p = api.coord([api.value(0), api.value(1)]);
    return {type:'group', children:[
      {type:'rect', shape:{x:p[0]+4, y:p[1]-6, width:39, height:12}, style:{fill:'#ffffff'}},
      {type:'text', x:p[0]+8, y:p[1], style:{text:lastPrice.toFixed(3), fill:'#000000', font:'9.5px '+LAT, verticalAlign:'middle', align:'left'}}
    ]};
  }});
// MACD
series.push(lineS([[X_MIN,0],[X_MAX,0]], '#ff0000', 1, 'solid', 2, 1));
series.push(lineS(macdSignal, '#ffffff', 1, [2,3], 3, 1));
series.push({type:'custom', xAxisIndex:1, yAxisIndex:1, silent:true, animation:false, z:4,
  data:macdLine.slice(1).map((p,i)=>[macdLine[i][0], macdLine[i][1], p[0], p[1]]), encode:{x:[0,2], y:[1,3]},
  renderItem:function(params, api){
    const a = api.coord([api.value(0), api.value(1)]), b = api.coord([api.value(2), api.value(3)]);
    const mid = (api.value(0) + api.value(2)) / 2;
    const rising = macdRisingRanges.some(r => mid >= r[0] && mid < r[1]);
    return {type:'line', shape:{x1:a[0], y1:a[1], x2:b[0], y2:b[1]}, style:{stroke:rising?'#3ad23a':'#f07aa8', lineWidth:2, lineCap:'round'}};
  }});
series.push({type:'custom', xAxisIndex:1, yAxisIndex:1, data:macdTicks.map(v=>[X_MAX, v]), silent:true, animation:false, z:11, clip:false,
  renderItem:function(params, api){
    const v = api.value(1); const p = api.coord([api.value(0), v]);
    const txt = v === 0 ? '0.00' : v.toFixed(3);
    const ch = [{type:'text', x:p[0]+6, y:p[1], style:{text:txt, fill:'#ffffff', font:'9.5px '+LAT, verticalAlign:'middle', align:'left'}}];
    if (v === 0) ch.unshift({type:'rect', shape:{x:p[0]+5, y:p[1]-6, width:7, height:12}, style:{fill:'#d00000'}});
    return {type:'group', children:ch};
  }});

// frame + static texts
const W = '#ffffff';
const graphic = [
  {type:'rect', shape:{x:2.5, y:3.5, width:1871, height:794}, style:{fill:null, stroke:W, lineWidth:1}, z:100, silent:true},
  {type:'line', shape:{x1:0, y1:1.5, x2:1920, y2:1.5}, style:{stroke:W, lineWidth:1}, z:100, silent:true},
  {type:'rect', shape:{x:2.5, y:800.5, width:1871, height:259}, style:{fill:null, stroke:W, lineWidth:1}, z:100, silent:true},
  {type:'line', shape:{x1:0, y1:798.5, x2:1920, y2:798.5}, style:{stroke:W, lineWidth:1}, z:100, silent:true},
  {type:'rect', shape:{x:2.5, y:1062.5, width:1871, height:15}, style:{fill:null, stroke:W, lineWidth:1}, z:100, silent:true},
  {type:'line', shape:{x1:0, y1:1061.5, x2:1920, y2:1061.5}, style:{stroke:W, lineWidth:1}, z:100, silent:true},
  {type:'text', x:17, y:11, style:{text:'USDJPY,H1 144.403 144.403 144.403 144.403', fill:W, font:'10px '+LAT, verticalAlign:'middle'}, z:101, silent:true},
  {type:'text', x:10, y:86, style:{text:'Channel size = 1573 Slope = 5.13', fill:W, font:'9.5px '+LAT, verticalAlign:'middle'}, z:101, silent:true},
  {type:'text', x:75, y:116, style:{text:'USDJPY H1', fill:W, font:'58px '+LAT, verticalAlign:'middle'}, z:101, silent:true},
  {type:'text', x:1871, y:12, style:{text:'8/28 06:22 更新', fill:W, font:'12px '+CJK, align:'right', verticalAlign:'middle'}, z:101, silent:true},
  {type:'text', x:6, y:809, style:{text:'H1  macd (12)', fill:W, font:'10px '+LAT, verticalAlign:'middle'}, z:101, silent:true},
  {type:'text', x:1879, y:1070, style:{text:'200000', fill:W, font:'9.5px '+LAT, verticalAlign:'middle'}, z:101, silent:true}
];
const barBlocks = [[3,59,'#760000'],[59,99,'#00006e'],[99,139,'#6e006e'],[139,161,'#3c3c3c'],[161,187,'#0b5a0b'],[187,251,'#760000'],[251,291,'#00006e'],[291,331,'#6e006e'],[331,363,'#3c3c3c']];
barBlocks.forEach(b => graphic.push({type:'rect', shape:{x:b[0], y:1064, width:b[1]-b[0], height:13}, style:{fill:b[2]}, z:99, silent:true}));
graphic.push({type:'text', x:174, y:1070, style:{text:'8/28', fill:W, font:'bold 11px '+LAT, align:'center', verticalAlign:'middle'}, z:101, silent:true});
graphic.push({type:'rect', shape:{x:906, y:1065, width:61, height:12}, style:{fill:'#5a5a5a'}, z:99, silent:true});
graphic.push({type:'text', x:936, y:1071, style:{text:'macd ON', fill:'#22cc22', font:'11px '+LAT, align:'center', verticalAlign:'middle'}, z:101, silent:true});

const option = {
  backgroundColor:'#000000',
  animation:false,
  grid:[{left:0, top:4, width:1872, height:793}, {left:0, top:803, width:1872, height:254}],
  xAxis:[
    {type:'value', gridIndex:0, min:X_MIN, max:X_MAX, show:false},
    {type:'value', gridIndex:1, min:X_MIN, max:X_MAX, show:false}
  ],
  yAxis:[
    {type:'value', gridIndex:0, min:143.313, max:148.277, show:false, scale:true},
    {type:'value', gridIndex:1, min:-0.668, max:0.279, show:false, scale:true}
  ],
  graphic:graphic,
  series:series
};
const chart = echarts.init(document.getElementById('chart'));
chart.setOption(option);
</script></body></html>
